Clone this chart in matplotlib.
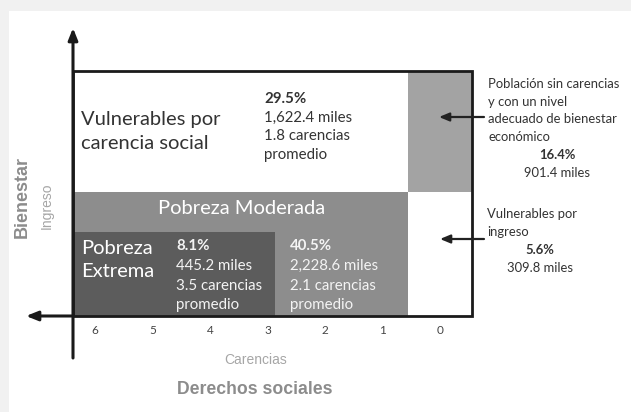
import matplotlib.pyplot as plt
from matplotlib.patches import Rectangle

# datos (CONEVAL)
carencias = [6, 5, 4, 3, 2, 1, 0]
grupos = ["Vulnerables por carencia social", "Pobreza Moderada", "Pobreza Extrema",
          "Población sin carencias y con un nivel adecuado de bienestar económico",
          "Vulnerables por ingreso"]
porcentaje = [29.5, 40.5, 8.1, 16.4, 5.6]
miles = [1622.4, 2228.6, 445.2, 901.4, 309.8]
carencias_prom = [1.8, 2.1, 3.5]

# geometria (en unidades de carencias / ingreso normalizado)
W, H = 631, 412
PX_CAR = 57.5      # pixeles por carencia
X0 = 440           # pixel del 0
YB, YT = 316, 71   # pixel del eje y del tope de la caja
def X(px): return (X0 - px) / PX_CAR
def Y(py): return (YB - py) / (YB - YT)

lim_izq, lim_der = X(73), X(472)
lim_cero = 0.557          # separacion 0 carencias
lim_ext = 2.87            # separacion pobreza extrema
lb = 0.506                # linea de bienestar
lbm = 0.343               # linea de bienestar minimo

fig = plt.figure(figsize=(W / 100, H / 100), dpi=100)
fig.patch.set_facecolor('#f1f1f1')
fig.patches.append(Rectangle((9 / W, 0), 1, 1 - 11 / H, transform=fig.transFigure,
                             fc='white', ec='none', zorder=-1))
ax = fig.add_axes([0, 0, 1, 1])
ax.set_zorder(1)
ax.set_facecolor('none')
ax.axis('off')
ax.set_xlim(X(0), X(W))
ax.set_ylim(Y(H), Y(0))

# regiones
ax.add_patch(Rectangle((lim_izq, lb), lim_cero - lim_izq, 1 - lb, fc='white', ec='none'))
ax.add_patch(Rectangle((lim_cero, lb), lim_der - lim_cero, 1 - lb, fc='#a3a3a3', ec='none'))
ax.add_patch(Rectangle((lim_izq, 0), lim_cero - lim_izq, lb, fc='#8d8d8d', ec='none'))
ax.add_patch(Rectangle((lim_izq, 0), lim_ext - lim_izq, lbm, fc='#5c5c5c', ec='none'))
ax.add_patch(Rectangle((lim_cero, 0), lim_der - lim_cero, lb, fc='white', ec='none'))
ax.add_patch(Rectangle((lim_izq, 0), lim_der - lim_izq, 1, fill=False, ec='#1a1a1a', lw=2, zorder=3))

# ejes con flechas
flecha = dict(arrowstyle='-|>,head_length=0.7,head_width=0.28', lw=2.2, color='#1a1a1a',
              shrinkA=0, shrinkB=0)
ax.annotate('', xy=(lim_izq, Y(28)), xytext=(lim_izq, Y(358)), arrowprops=flecha, zorder=4)
ax.annotate('', xy=(X(26), 0), xytext=(lim_izq, 0), arrowprops=flecha, zorder=4)

for c in carencias:
    ax.text(c, Y(331), str(c), ha='center', va='center', fontsize=8.5, color='#444444',
            family='Lato')

ax.text(X(256), Y(360), 'Carencias', ha='center', va='center', fontsize=10,
        color='#a6a6a6', family='Liberation Sans')
ax.text(X(255), Y(390), 'Derechos sociales', ha='center', va='center', fontsize=12.7,
        color='#8c8c8c', family='Liberation Sans', weight='bold')
ax.text(X(22), Y(197), 'Bienestar', ha='center', va='center', rotation=90, fontsize=13,
        color='#8c8c8c', family='Liberation Sans', weight='bold')
ax.text(X(47), Y(206), 'Ingreso', ha='center', va='center', rotation=90, fontsize=10,
        color='#a6a6a6', family='Liberation Sans')

# textos dentro de la caja
fam = 'Lato'
ax.text(X(81), Y(131.5), 'Vulnerables por\ncarencia social', ha='left', va='center',
        fontsize=14.5, color='#333333', family=fam, linespacing=1.45)
ax.text(X(242), Y(208), grupos[1], ha='center', va='center', fontsize=14.5,
        color='white', family=fam)
ax.text(X(81), Y(260), 'Pobreza\nExtrema', ha='left', va='center', fontsize=14.5,
        color='white', family=fam, linespacing=1.4)


def bloque(px, py, i, color, paso=18.5):
    ax.text(X(px), Y(py), f'{porcentaje[i]}%', ha='left', va='center', fontsize=10.8,
            weight='bold', color=color, family=fam)
    ax.text(X(px), Y(py + paso), f'{miles[i]:,.1f} miles', ha='left', va='center',
            fontsize=10.8, color=color, family=fam)
    ax.text(X(px), Y(py + 2 * paso), f'{carencias_prom[i]} carencias', ha='left',
            va='center', fontsize=10.8, color=color, family=fam)
    ax.text(X(px), Y(py + 3 * paso), 'promedio', ha='left', va='center', fontsize=10.8,
            color=color, family=fam)


bloque(264, 99, 0, '#333333')
bloque(176, 246, 2, '#f4f4f4', paso=19.8)
bloque(290, 246, 1, '#f4f4f4', paso=19.8)

# anotaciones derecha
flecha2 = dict(arrowstyle='-|>,head_length=0.6,head_width=0.25', lw=1.6, color='#222222',
               shrinkA=0, shrinkB=0)
ax.annotate('', xy=(X(439), Y(117)), xytext=(X(484), Y(117)), arrowprops=flecha2)
ax.annotate('', xy=(X(440), Y(239)), xytext=(X(484), Y(239)), arrowprops=flecha2)

ax.text(X(488), Y(110.5), 'Población sin carencias\ny con un nivel\nadecuado de bienestar\neconómico',
        ha='left', va='center', fontsize=9.4, color='#333333', family=fam, linespacing=1.55)
ax.text(X(557), Y(155), f'{porcentaje[3]}%', ha='center', va='center', fontsize=9.4,
        weight='bold', color='#333333', family=fam)
ax.text(X(557), Y(173), f'{miles[3]} miles', ha='center', va='center', fontsize=9.4,
        color='#333333', family=fam)
ax.text(X(487), Y(223), 'Vulnerables por\ningreso', ha='left', va='center', fontsize=9.4,
        color='#333333', family=fam, linespacing=1.55)
ax.text(X(540), Y(250), f'{porcentaje[4]}%', ha='center', va='center', fontsize=9.4,
        weight='bold', color='#333333', family=fam)
ax.text(X(540), Y(268), f'{miles[4]} miles', ha='center', va='center', fontsize=9.4,
        color='#333333', family=fam)

fig.savefig('out.png', dpi=100, facecolor=fig.get_facecolor())
